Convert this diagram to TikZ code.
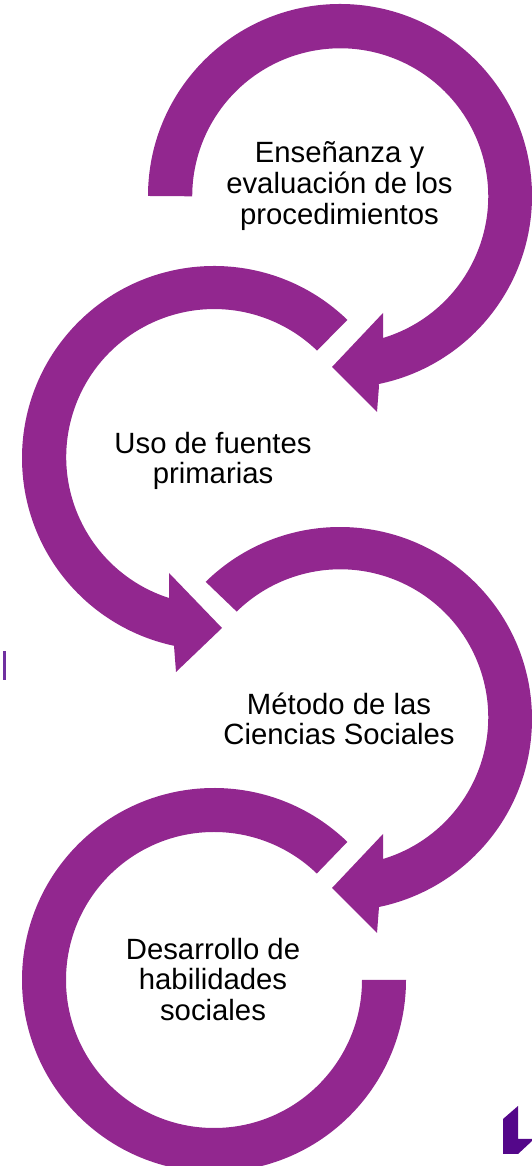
\documentclass[tikz,border=0pt]{standalone}
\usepackage{fontspec}
\setmainfont{Liberation Sans}
\usetikzlibrary{calc}
\definecolor{arcpurple}{HTML}{92278F}
\definecolor{barpurple}{HTML}{7030A0}
\definecolor{logopurple}{HTML}{54078A}
\tikzset{
  arcshape/.style={fill=arcpurple,draw=none},
  label/.style={align=center,inner sep=0pt,text=black,font=\fontsize{29.3}{30.6}\selectfont}
}
\begin{document}
\begin{tikzpicture}[x=1pt,y=1pt]
\path[use as bounding box] (0,0) rectangle (532,1166);
\clip (0,0) rectangle (532,1166);
\coordinate (c1) at (340,970);
\coordinate (c2) at (214,708);
\coordinate (c3) at (340,447);
\coordinate (c4) at (214,186);
% arrow 1
\fill[arcshape] ($(c1)+(180:192pt)$) arc[start angle=180,end angle=-78.4,radius=192pt]
  -- (379,780) -- (377,754) -- (332,799) -- (383,853) -- (383,828)
  arc[start angle=-73.2,end angle=180,radius=148pt] -- cycle;
% arrow 2
\fill[arcshape] ($(c2)+(46:192pt)$) arc[start angle=46,end angle=258,radius=192pt]
  -- (174,520) -- (176,494) -- (222,538) -- (169,593) -- (169,568)
  arc[start angle=252.2,end angle=46,radius=148pt] -- cycle;
% arrow 3
\fill[arcshape] ($(c3)+(134.4:192pt)$) arc[start angle=134.4,end angle=-78.4,radius=192pt]
  -- (379,259) -- (377,233) -- (332,278) -- (383,332) -- (383,307)
  arc[start angle=-73.2,end angle=134.4,radius=148pt] -- cycle;
% arrow 4
\fill[arcshape] ($(c4)+(46:192pt)$) arc[start angle=46,end angle=360,radius=192pt]
  -- ($(c4)+(0:148pt)$)
  arc[start angle=360,end angle=46,radius=148pt] -- cycle;
% small bar and logo
\fill[barpurple] (3,486) rectangle (6,515);
\fill[logopurple] (503,47) -- (518,60) -- (518,27) -- (532,27) -- (532,25) -- (518,12) -- (503,12) -- cycle;
% labels
\node[label] (t1) at (339.5,980) {Enseñanza y\\evaluación de los\\procedimientos};
\node[label] (t2) at (213,705) {Uso de fuentes\\primarias};
\node[label] (t3) at (339,447) {Método de las\\Ciencias Sociales};
\node[label] (t4) at (213,186.5) {Desarrollo de\\habilidades\\sociales};
\end{tikzpicture}
\end{document}
